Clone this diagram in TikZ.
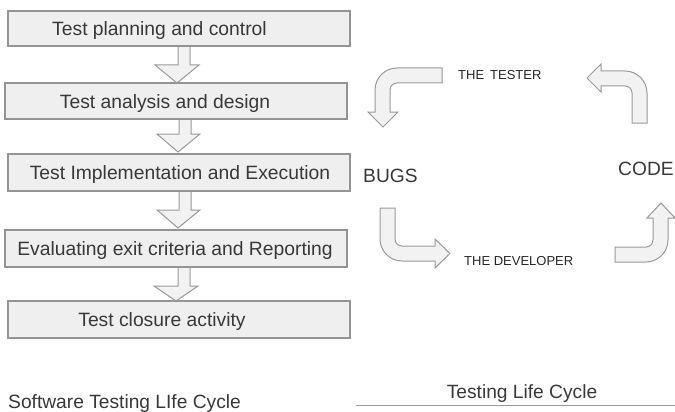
\documentclass[tikz,border=0pt]{standalone}
\usepackage{fontspec}
\setmainfont{Liberation Sans}
\definecolor{boxfill}{HTML}{EFEFEF}
\definecolor{boxline}{HTML}{949494}
\definecolor{arrfill}{HTML}{F2F2F2}
\definecolor{arrline}{HTML}{999999}
\definecolor{txt}{HTML}{383838}
\begin{document}
\begin{tikzpicture}[x=1pt,y=-1pt,
  stagebox/.style={draw=boxline,fill=boxfill,line width=1.2pt,minimum width=342pt,inner sep=0pt},
  stagetext/.style={anchor=base,text=txt,font=\fontsize{19.3}{23}\selectfont,inner sep=0pt},
  blockarrow/.style={draw=arrline,fill=arrfill,line width=1pt,line join=miter},
  bigword/.style={anchor=base west,text=txt,font=\fontsize{19.2}{23}\selectfont,inner sep=0pt},
  smallword/.style={anchor=base west,text=black!85,font=\fontsize{13}{15}\selectfont,inner sep=0pt}]
\useasboundingbox (0,0) rectangle (675,412);

% down block arrows
\draw[blockarrow] (178,46) -- (190,46) -- (190,65) -- (199,65) -- (177,83) -- (155,65) -- (178,65) -- cycle;
\draw[blockarrow] (179,119) -- (191,119) -- (191,134) -- (200,134) -- (178,152) -- (157,134) -- (179,134) -- cycle;
\draw[blockarrow] (179,191) -- (191,191) -- (191,210) -- (200,210) -- (178,228) -- (157,210) -- (179,210) -- cycle;
\draw[blockarrow] (178,267) -- (190,267) -- (190,286) -- (198,286) -- (176,301) -- (154,286) -- (178,286) -- cycle;

% stage boxes
\node[stagebox,minimum height=35pt] (b1) at (179,28.5) {};
\node[stagebox,minimum height=36pt] (b2) at (176,101) {};
\node[stagebox,minimum height=37pt] (b3) at (179,172.5) {};
\node[stagebox,minimum height=37pt] (b4) at (176,248.5) {};
\node[stagebox,minimum height=37pt] (b5) at (179,319.5) {};

\node[stagetext] (t1) at (159.5,36) {Test planning and control};
\node[stagetext] (t2) at (165,108.5) {Test analysis and design};
\node[stagetext] (t3) at (180,179.5) {Test Implementation and Execution};
\node[stagetext] (t4) at (175,255.5) {Evaluating exit criteria and Reporting};
\node[stagetext] (t5) at (162,326.5) {Test closure activity};

\node[bigword] (swtlc) at (8,408.5) {Software Testing LIfe Cycle};

% right cycle
\node[bigword] (bugs) at (363,182) {BUGS};
\node[bigword] (code) at (618,175) {CODE};
\node[smallword] (tester) at (458,80) {THE\hspace{6pt}TESTER};
\node[smallword] (dev) at (464,265) {THE DEVELOPER};

% top-left curved arrow (tester -> bugs)
\draw[blockarrow] (442,68) -- (397,68) .. controls (384.9,68) and (375,77.9) .. (375,90)
  -- (375,112) -- (368,112) -- (383,127) -- (398,112) -- (390,112) -- (390,90)
  .. controls (390,86.1) and (393.1,83) .. (397,83) -- (442,83) -- cycle;
% top-right curved arrow (code -> tester)
\draw[blockarrow] (601,71) -- (625,71) .. controls (637.1,71) and (647,80.9) .. (647,93)
  -- (647,123) -- (632,123) -- (632,93) .. controls (632,89.1) and (628.9,86) .. (625,86)
  -- (601,86) -- (601,92) -- (587,78) -- (601,64) -- cycle;
% bottom-left curved arrow (bugs -> developer)
\draw[blockarrow] (380,208) -- (380,239) .. controls (380,251.1) and (389.9,261) .. (402,261)
  -- (435,261) -- (435,268) -- (450,253.5) -- (435,239) -- (435,246) -- (402,246)
  .. controls (398.1,246) and (395,242.9) .. (395,239) -- (395,208) -- cycle;
% bottom-right curved arrow (developer -> code)
\draw[blockarrow] (615,262) -- (646,262) .. controls (658.1,262) and (668,252.1) .. (668,240)
  -- (668,218) -- (675,218) -- (661,203) -- (647,218) -- (653,218) -- (653,240)
  .. controls (653,243.9) and (649.9,247) .. (646,247) -- (615,247) -- cycle;

\node[anchor=base,text=txt,font=\fontsize{19.2}{23}\selectfont,inner sep=0pt] (tlc) at (522,398) {Testing Life Cycle};
\coordinate (ul) at (356,405.5);
\coordinate (ur) at (675,405.5);
\draw[draw=arrline,line width=1pt] (ul) -- (ur);
\end{tikzpicture}
\end{document}
